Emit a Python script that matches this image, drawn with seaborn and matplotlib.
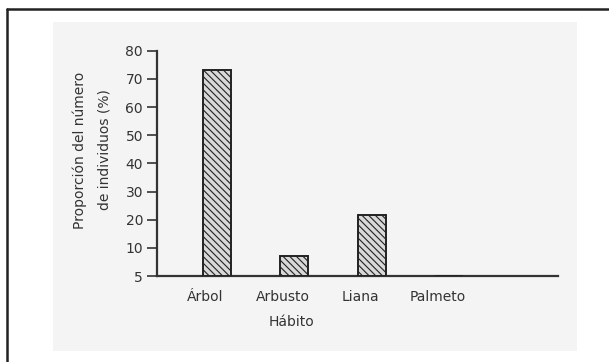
import matplotlib
matplotlib.use("Agg")
import matplotlib.pyplot as plt
import seaborn as sns
import pandas as pd
from matplotlib.patches import Rectangle
from matplotlib.lines import Line2D

categories = ["Árbol", "Arbusto", "Liana", "Palmeto"]
values = [73, 7, 21.5, 0]
ytick_values = [0, 10, 20, 30, 40, 50, 60, 70, 80]
ytick_labels = ["5", "10", "20", "30", "40", "50", "60", "70", "80"]

sns.set_theme(style="white")
plt.rcParams['font.family'] = ['DejaVu Sans']
plt.rcParams['hatch.color'] = '#555555'
plt.rcParams['hatch.linewidth'] = 0.8

W, H = 609, 362
fig = plt.figure(figsize=(W / 100, H / 100), dpi=100)
fig.patch.set_facecolor("white")

# scanned page background panel
fig.patches.append(Rectangle((53 / W, 1 - 351 / H), (577 - 53) / W, (351 - 22) / H,
                             transform=fig.transFigure, facecolor="#f4f4f4",
                             edgecolor="none", zorder=-5))
# page border lines
fig.lines.append(Line2D([7 / W, 1.0], [1 - 9 / H, 1 - 9 / H], transform=fig.transFigure,
                        color="#222222", linewidth=1.8, zorder=-4))
fig.lines.append(Line2D([7 / W, 7 / W], [1 - 9 / H, 0.0], transform=fig.transFigure,
                        color="#222222", linewidth=1.8, zorder=-4))

ax = fig.add_axes([157 / W, 1 - 276 / H, (558 - 157) / W, (276 - 50.7) / H])
ax.set_zorder(2)
ax.set_facecolor("none")

df = pd.DataFrame({"Hábito": categories, "Proporción": values})
sns.barplot(data=df, x="Hábito", y="Proporción", order=categories, color="#d8d8d8",
            width=0.36, edgecolor="#222222", linewidth=1.4, ax=ax, zorder=3)
for p in ax.patches:
    p.set_hatch("\\\\\\\\\\")

ax.set_ylim(0, 80)
ax.set_xlim(-0.776, 4.41)
ax.set_yticks(ytick_values)
ax.set_yticklabels(ytick_labels, fontsize=10, color="#333333")
ax.set_xticks([i - 0.15 for i in range(len(categories))])
ax.set_xticklabels(categories, fontsize=10, color="#333333")
ax.tick_params(axis="y", length=7, width=1.2, color="#333333", pad=3, left=True)
ax.tick_params(axis="x", length=0, pad=10)

for s in ["top", "right"]:
    ax.spines[s].set_visible(False)
for s in ["left", "bottom"]:
    ax.spines[s].set_color("#333333")
    ax.spines[s].set_linewidth(1.6)

ax.set_xlabel("Hábito", fontsize=10, color="#333333")
ax.set_ylabel("Proporción del número\nde individuos (%)", fontsize=10,
              color="#333333", linespacing=2.0)
ax.xaxis.set_label_coords((291 - 157) / (558 - 157), -(315 - 276) / (276 - 50.7))
ax.yaxis.set_label_coords(-(157 - 112) / (558 - 157), (276 - 150) / (276 - 50.7))

fig.savefig("out.png", dpi=100)
